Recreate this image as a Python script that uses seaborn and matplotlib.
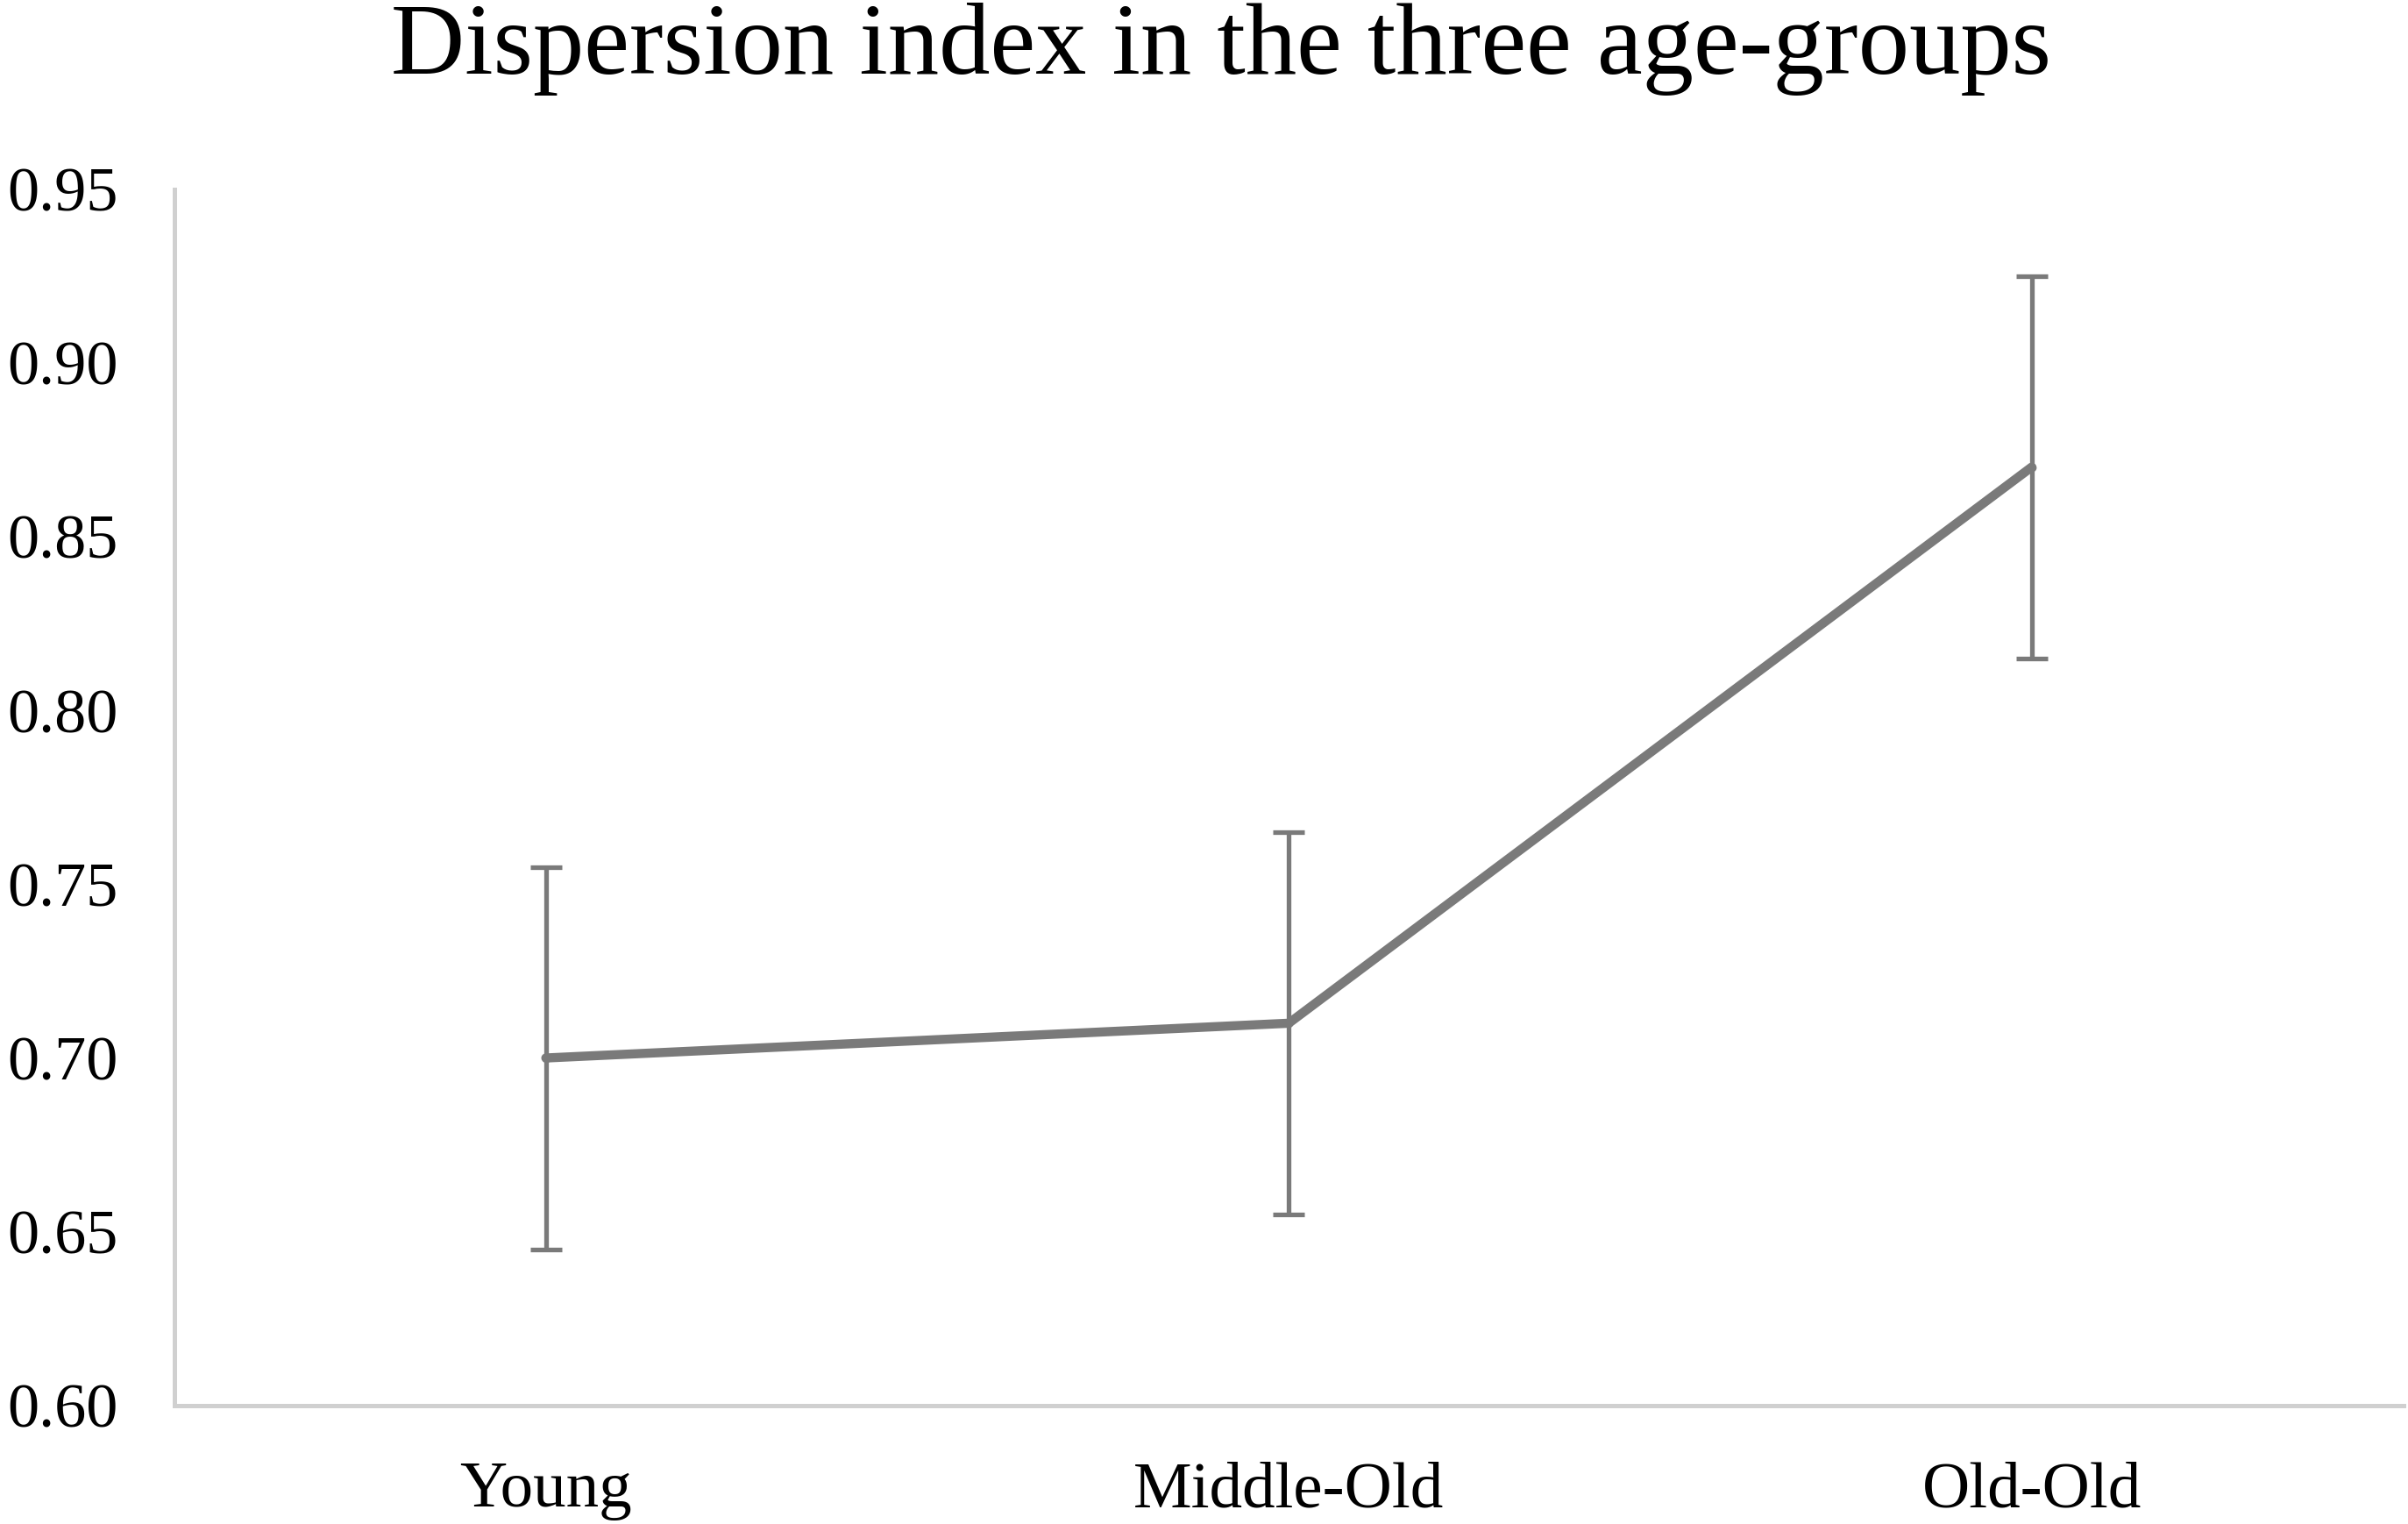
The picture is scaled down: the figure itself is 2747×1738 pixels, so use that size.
import pandas as pd
import matplotlib
matplotlib.use("Agg")
import matplotlib.pyplot as plt
import seaborn as sns

# data
groups = ["Young", "Middle-Old", "Old-Old"]
dispersion = [0.700, 0.710, 0.870]
err = [0.055, 0.055, 0.055]
y_ticks = [0.60, 0.65, 0.70, 0.75, 0.80, 0.85, 0.90, 0.95]

sns.set_style("white")
plt.rcParams["font.family"] = ["Liberation Serif", "DejaVu Serif"]
plt.rcParams["text.color"] = "black"
plt.rcParams["xtick.color"] = "black"
plt.rcParams["ytick.color"] = "black"

df = pd.DataFrame({"group": groups, "dispersion": dispersion})

fig = plt.figure(figsize=(27.47, 17.38), dpi=100)
ax = fig.add_axes([0.0724, 0.0777, 0.9256, 0.7983])

grey = "#7a7a7a"
ax.errorbar(range(len(groups)), dispersion, yerr=err, fmt="none",
            ecolor=grey, elinewidth=3.8, capsize=13, capthick=3.8, zorder=2)
sns.pointplot(data=df, x="group", y="dispersion", color=grey, ax=ax,
              errorbar=None, markers="o", zorder=3)
# thicken the mean line
for ln in ax.lines[-1:]:
    ln.set_linewidth(7.5)
    ln.set_markersize(5)
    ln.set_zorder(3)

ax.set_xlim(-0.5, 2.5)
ax.set_ylim(0.60, 0.95)
ax.set_yticks(y_ticks)
ax.set_yticklabels([f"{v:.2f}" for v in y_ticks])
ax.set_xlabel("")
ax.set_ylabel("")
ax.tick_params(axis="y", labelsize=52, pad=46, length=0)
ax.tick_params(axis="x", labelsize=54, pad=46, length=0)

for side in ["top", "right"]:
    ax.spines[side].set_visible(False)
for side in ["left", "bottom"]:
    ax.spines[side].set_color("#d0d0d0")
    ax.spines[side].set_linewidth(3.6)

fig.text(0.507, 0.968, "Dispersion index in the three age-groups",
         ha="center", va="center", fontsize=84)

fig.savefig("out.png", dpi=100, facecolor="white")
